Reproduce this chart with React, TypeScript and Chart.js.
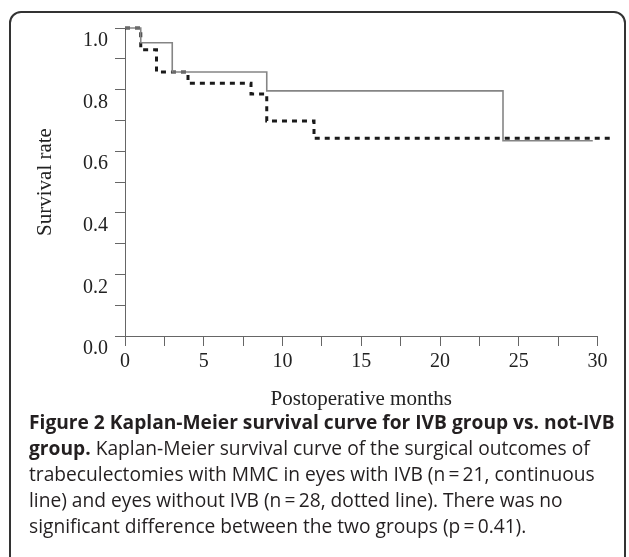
import React, { useEffect, useRef } from "react";
import { Chart, registerables } from "chart.js";

Chart.register(...registerables);

// Kaplan-Meier steps (months, survival rate)
const ivbMonths = [0, 1, 3, 9, 24, 29.7];
const ivbSurvival = [1.0, 0.952, 0.857, 0.796, 0.634, 0.634];
const nonIvbMonths = [0, 1, 2, 4, 8, 9, 12, 30.8];
const nonIvbSurvival = [1.0, 0.929, 0.857, 0.821, 0.786, 0.698, 0.642, 0.642];

const xLabelEvery = [0, 5, 10, 15, 20, 25, 30];
const yLabelEvery = ["0.0", "0.2", "0.4", "0.6", "0.8", "1.0"];

const xTitle = "Postoperative months";
const yTitle = "Survival rate";

const captionBold = "Figure 2 Kaplan-Meier survival curve for IVB group vs. not-IVB";
const captionBold2 = "group.";
const captionLines = [
  " Kaplan-Meier survival curve of the surgical outcomes of",
  "trabeculectomies with MMC in eyes with IVB (n\u2009=\u200921, continuous",
  "line) and eyes without IVB (n\u2009=\u200928, dotted line). There was no",
  "significant difference between the two groups (p\u2009=\u20090.41).",
];

const SERIF = "'Liberation Serif', 'Times New Roman', 'DejaVu Serif', serif";

export default function App() {
  const canvasRef = useRef<HTMLCanvasElement | null>(null);

  useEffect(() => {
    const canvas = canvasRef.current;
    if (!canvas) return;
    const toPts = (xs: number[], ys: number[]) => xs.map((x, i) => ({ x, y: ys[i] }));
    const chart = new Chart(canvas, {
      type: "line",
      data: {
        datasets: [
          {
            label: "IVB",
            data: toPts(ivbMonths, ivbSurvival),
            stepped: "before",
            borderColor: "#858585",
            borderWidth: 1.6,
            pointRadius: 0,
            fill: false,
            clip: false as any,
          },
          {
            label: "not-IVB",
            data: toPts(nonIvbMonths, nonIvbSurvival),
            stepped: "before",
            borderColor: "#1a1a1a",
            borderWidth: 3,
            borderDash: [5, 5],
            pointRadius: 0,
            fill: false,
            clip: false as any,
          },
        ],
      },
      options: {
        responsive: false,
        animation: false,
        devicePixelRatio: 1,
        layout: { padding: { left: 0, top: 28, right: 31.5, bottom: 0 } },
        plugins: { legend: { display: false }, tooltip: { enabled: false } },
        scales: {
          x: {
            type: "linear",
            min: 0,
            max: 30,
            afterFit: (s: any) => {
              s.height = 84;
            },
            ticks: {
              stepSize: 2.5,
              autoSkip: false,
              maxRotation: 0,
              padding: 4,
              color: "#222",
              font: { family: SERIF, size: 20 },
              callback: (v: any) => {
                const n = Number(v);
                return xLabelEvery.includes(n) ? String(n) : "";
              },
            },
            grid: { drawOnChartArea: false, drawTicks: true, tickLength: 10, color: "#666", lineWidth: 1 },
            border: { display: true, color: "#666", width: 1 },
            title: {
              display: true,
              text: xTitle,
              color: "#222",
              font: { family: SERIF, size: 21 },
              padding: { top: 0, bottom: 8 },
            },
          },
          y: {
            type: "linear",
            min: 0,
            max: 1,
            afterFit: (s: any) => {
              s.width = 125;
            },
            ticks: {
              stepSize: 0.1,
              autoSkip: false,
              padding: 7,
              labelOffset: 13,
              color: "#222",
              font: { family: SERIF, size: 20 },
              callback: (v: any) => {
                const t = Number(v).toFixed(1);
                return yLabelEvery.includes(t) ? t : "";
              },
            },
            grid: { drawOnChartArea: false, drawTicks: true, tickLength: 10, color: "#666", lineWidth: 1 },
            border: { display: true, color: "#666", width: 1 },
            title: {
              display: true,
              text: yTitle,
              color: "#222",
              font: { family: SERIF, size: 21 },
              padding: { top: 33, bottom: 0 },
            },
          },
        },
      },
    });
    return () => chart.destroy();
  }, []);

  return (
    <div style={{ position: "absolute", left: 0, top: 0, width: 629, height: 557, overflow: "hidden", background: "#fff" }}>
      <div
        style={{
          position: "absolute",
          left: 9,
          top: 11,
          width: 617,
          height: 600,
          border: "2px solid #333",
          borderRadius: 12,
          boxSizing: "border-box",
        }}
      />
      <canvas
        ref={canvasRef}
        width={629}
        height={420}
        style={{ position: "absolute", left: 0, top: 0, width: 629, height: 420 }}
      />
      <div
        style={{
          position: "absolute",
          left: 29,
          top: 409,
          fontFamily: "'Open Sans', 'Noto Sans', sans-serif",
          fontSize: 19.2,
          lineHeight: "26px",
          color: "#231f20",
          whiteSpace: "nowrap",
        }}
      >
        <div style={{ fontWeight: 700 }}>{captionBold}</div>
        <div>
          <span style={{ fontWeight: 700 }}>{captionBold2}</span>
          {captionLines[0]}
        </div>
        <div>{captionLines[1]}</div>
        <div>{captionLines[2]}</div>
        <div>{captionLines[3]}</div>
      </div>
    </div>
  );
}
